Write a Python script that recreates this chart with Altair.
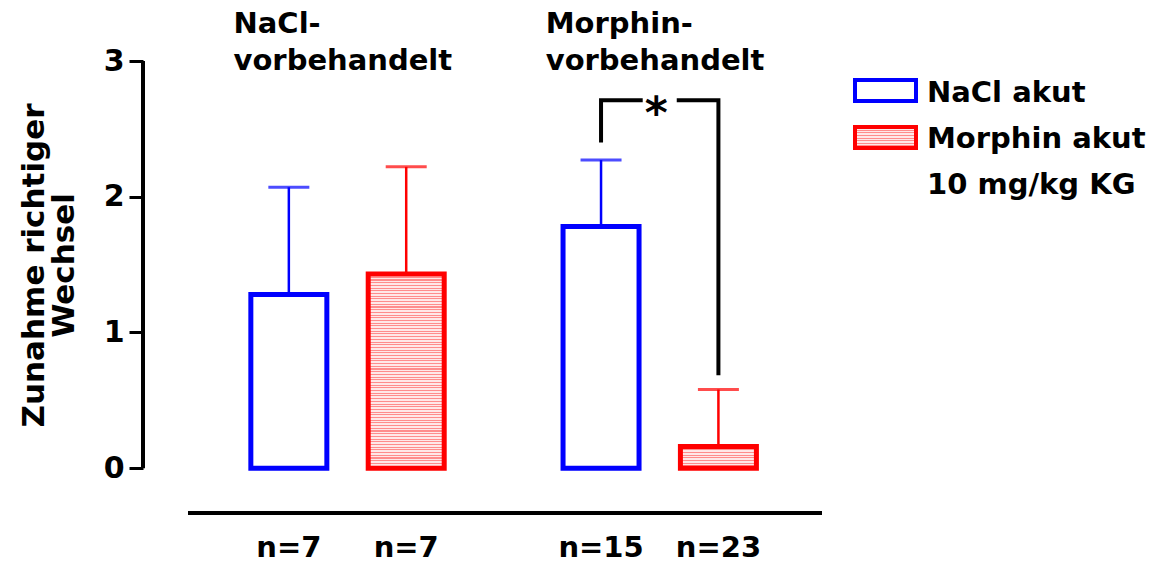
import altair as alt
import pandas as pd

# --- data -------------------------------------------------------------
pretreatment = ["NaCl", "NaCl", "Morphin", "Morphin"]
treatment = ["NaCl akut", "Morphin akut", "NaCl akut", "Morphin akut"]
means = [1.28, 1.43, 1.78, 0.16]
sems = [0.79, 0.79, 0.49, 0.42]
n_labels = ["n=7", "n=7", "n=15", "n=23"]
slots = [1.2, 2.2, 3.86, 4.86]          # bar centres on the x scale

group_titles = ["NaCl-\nvorbehandelt", "Morphin-\nvorbehandelt"]
legend_labels = ["NaCl akut", "Morphin akut\n10 mg/kg KG"]

# significance bracket between the two Morphin-pretreated bars
bracket_top = 2.71
bracket_left_foot = 2.40
bracket_right_foot = 0.685

# --- layout / style ---------------------------------------------------
W, H = 679, 452
Y_MIN, Y_MAX = -0.33, 3.0
X_DOMAIN = [0, 5.7]
FONT = "DejaVu Sans"
TXT = 29
BLUE, RED = "#0000ff", "#ff0000"
PINK_DARK, PINK_LIGHT = "#ff8c8c", "#ffe8e8"

df = pd.DataFrame({
    "idx": range(4),
    "pre": pretreatment,
    "treatment": treatment,
    "mean": means,
    "sem": sems,
    "n": n_labels,
    "slot": slots,
})
df["upper"] = df["mean"] + df["sem"]

x_enc = alt.X("slot:Q", scale=alt.Scale(domain=X_DOMAIN, nice=False, zero=False), axis=None)
y_scale = alt.Scale(domain=[Y_MIN, Y_MAX], nice=False, zero=False)
y_axis = alt.Axis(
    values=[0, 1, 2, 3], format="d", grid=False, domain=False,
    ticks=True, tickSize=14, tickWidth=3, tickColor="black",
    labelFont=FONT, labelFontSize=30, labelFontWeight="bold", labelColor="black",
    labelPadding=5,
    title=["Zunahme richtiger", "Wechsel"], titleFont=FONT, titleFontSize=31,
    titleFontWeight="bold", titleColor="black", titleAngle=270,
    titleAlign="center", titleBaseline="alphabetic", titleLineHeight=30,
    titleX=-100, titleY=204,
)
stroke_scale = alt.Scale(domain=["NaCl akut", "Morphin akut"], range=[BLUE, RED])
px_per_unit = H / (Y_MAX - Y_MIN)


def stripes(height_px, period=2.7):
    """Horizontal hatch for the Morphin bars as a hard-stop gradient."""
    n = max(1, int(round(height_px / period)))
    stops = []
    for i in range(n):
        a, b, c = i / n, (i + 0.4) / n, (i + 1) / n
        stops += [
            {"offset": a, "color": PINK_DARK},
            {"offset": b, "color": PINK_DARK},
            {"offset": b, "color": PINK_LIGHT},
            {"offset": c, "color": PINK_LIGHT},
        ]
    return {"gradient": "linear", "x1": 0, "y1": 0, "x2": 0, "y2": 1, "stops": stops}


base = alt.Chart(df)

# error bars (upper half only) and caps
err = base.mark_rule(strokeWidth=2.5).encode(
    x=x_enc,
    y=alt.Y("mean:Q", scale=y_scale, axis=y_axis),
    y2="upper:Q",
    color=alt.Color("treatment:N", scale=stroke_scale, legend=None),
)
caps = base.mark_tick(orient="horizontal", size=41, thickness=3).encode(
    x=x_enc,
    y=alt.Y("upper:Q", scale=y_scale, axis=y_axis),
    color=alt.Color("treatment:N", scale=stroke_scale, legend=None),
)

bar_layers = []
for i, row in df.iterrows():
    if row["treatment"] == "NaCl akut":
        fill = "white"
        stroke = BLUE
    else:
        fill = stripes(row["mean"] * px_per_unit)
        stroke = RED
    bar_layers.append(
        base.transform_filter(alt.datum.idx == int(i)).mark_bar(
            size=76, fill=fill, stroke=stroke, strokeWidth=5
        ).encode(
            x=x_enc,
            y=alt.Y("mean:Q", scale=y_scale, axis=y_axis),
            y2=alt.datum(0),
        )
    )

# y axis line from 0 to 3
axis_line = alt.Chart(pd.DataFrame({"a": [0]})).mark_rule(
    strokeWidth=4, color="black"
).encode(
    x=alt.value(0),
    y=alt.datum(0, scale=y_scale),
    y2=alt.datum(3),
)

# baseline under the groups
base_line = alt.Chart(pd.DataFrame({"a": [0]})).mark_rule(
    strokeWidth=4, color="black"
).encode(x=alt.value(45), x2=alt.value(W), y=alt.value(H))

# n labels
n_text = base.mark_text(
    font=FONT, fontSize=TXT, fontWeight="bold", baseline="alphabetic", color="black"
).encode(x=x_enc, y=alt.value(496), text="n:N")

# group titles
centres = [(slots[0] + slots[1]) / 2, (slots[2] + slots[3]) / 2]
df_g = pd.DataFrame({"title": group_titles, "slot": centres})
g_text = alt.Chart(df_g).mark_text(
    font=FONT, fontSize=TXT, fontWeight="bold", align="left", baseline="alphabetic",
    lineBreak="\n", lineHeight=37, dx=-114, color="black",
).encode(x=x_enc, y=alt.value(-28), text="title:N")

# significance bracket with star
star_x = (slots[2] + slots[3]) / 2
gap = 0.145
df_br = pd.DataFrame({
    "slot": [slots[2], slots[2], star_x - gap, star_x + gap, slots[3], slots[3]],
    "y": [bracket_left_foot, bracket_top, bracket_top, bracket_top, bracket_top, bracket_right_foot],
    "seg": [0, 0, 0, 1, 1, 1],
    "ord": [0, 1, 2, 0, 1, 2],
})
bracket = alt.Chart(df_br).mark_line(
    color="black", strokeWidth=4, strokeJoin="miter", strokeCap="butt"
).encode(
    x=x_enc,
    y=alt.Y("y:Q", scale=y_scale, axis=y_axis),
    detail="seg:N",
    order="ord:Q",
)
star = alt.Chart(pd.DataFrame({"slot": [star_x - 0.03], "y": [bracket_top], "t": ["*"]})).mark_text(
    font=FONT, fontSize=44, fontWeight="bold", baseline="middle", dy=15, color="black"
).encode(x=x_enc, y=alt.Y("y:Q", scale=y_scale, axis=y_axis), text="t:N")

# legend
one = pd.DataFrame({"a": [0]})
leg1 = alt.Chart(one).mark_rect(fill="white", stroke=BLUE, strokeWidth=4).encode(
    x=alt.value(712), x2=alt.value(773), y=alt.value(19), y2=alt.value(40))
leg2 = alt.Chart(one).mark_rect(fill=stripes(21), stroke=RED, strokeWidth=4).encode(
    x=alt.value(712), x2=alt.value(773), y=alt.value(66), y2=alt.value(87))
leg_t1 = alt.Chart(one).mark_text(
    font=FONT, fontSize=TXT, fontWeight="bold", align="left", baseline="alphabetic", color="black"
).encode(x=alt.value(784), y=alt.value(41), text=alt.value(legend_labels[0]))
leg_t2 = alt.Chart(one).mark_text(
    font=FONT, fontSize=TXT, fontWeight="bold", align="left", baseline="alphabetic",
    lineBreak="\n", lineHeight=46, color="black"
).encode(x=alt.value(784), y=alt.value(87), text=alt.value(legend_labels[1]))

chart = alt.layer(
    err, caps, *bar_layers, axis_line, base_line, n_text, g_text, bracket, star,
    leg1, leg2, leg_t1, leg_t2,
).properties(
    width=W, height=H, autosize="none",
    padding={"left": 143, "top": 61, "right": 331, "bottom": 50},
).configure(background="white").configure_view(strokeWidth=0, stroke="transparent")

chart.save("out.html", embed_options={"renderer": "svg", "actions": False})
